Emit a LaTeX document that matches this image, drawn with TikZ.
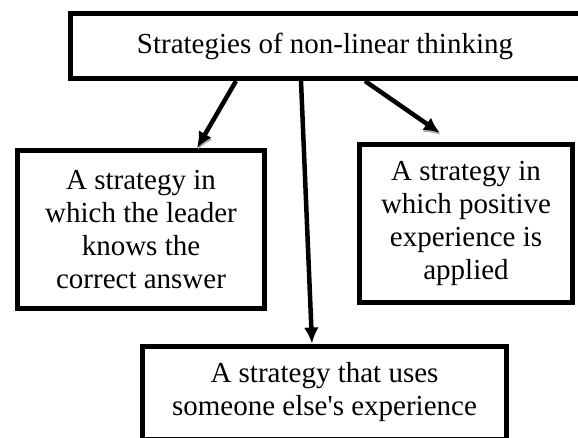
\documentclass[tikz,border=0pt]{standalone}
\usepackage{fontspec}
\setmainfont{Liberation Serif}[Ligatures=TeXOff]
\usetikzlibrary{arrows.meta}
\tikzset{
	box/.style={draw, line width=5pt, rectangle, align=center, inner sep=0pt, font=\fontsize{29pt}{33pt}\selectfont},
	arr/.style={line width=4.5pt, -{Latex[length=16pt,width=15pt]}},
	shade/.style={preaction={draw=gray!65, transform canvas={shift={(0.5pt,-2pt)}}}}
}
\begin{document}
\begin{tikzpicture}[x=1pt, y=-1pt]
	\useasboundingbox (0,0) rectangle (578,437);
	\clip (0,0) rectangle (578,437);
	\node [box, minimum width=510pt, minimum height=65pt] (top) at (325,46) {Strategies of non-linear thinking};
	\node [box, minimum width=247pt, minimum height=158pt] (leader) at (141,229.5) {A strategy in\\which the leader\\knows the\\correct answer};
	\node [box, minimum width=213pt, minimum height=158pt] (positive) at (466,223.5) {A strategy in\\which positive\\experience is\\applied};
	\node [box, minimum width=364pt, minimum height=93pt] (else) at (324.5,392.5) {A strategy that uses\\someone else's experience};
	\draw [arr, shade] ([xshift=-89pt]top.south) -- ([xshift=56pt]leader.north);
	\draw [arr] ([xshift=-24pt]top.south) -- ([xshift=-12.5pt]else.north);
	\draw [arr, shade] ([xshift=40pt]top.south) -- ([xshift=-26pt,yshift=9pt]positive.north);
\end{tikzpicture}
\end{document}
